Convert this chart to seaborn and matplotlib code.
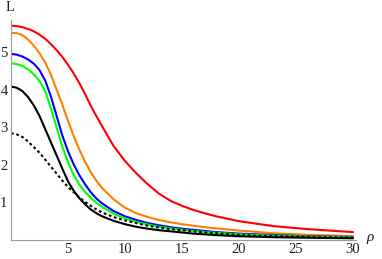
import matplotlib
matplotlib.use("Agg")
import matplotlib.pyplot as plt
from matplotlib.ticker import MultipleLocator
import seaborn as sns
import pandas as pd

rho = [0, 0.5, 1, 1.5, 2, 2.5, 3, 3.5, 4, 4.5, 5, 5.5, 6, 6.5, 7, 7.5, 8, 9, 10,
       11, 12, 13, 14, 15, 16, 17, 18, 20, 23, 26, 30]

L_red = [5.70, 5.69, 5.66, 5.61, 5.55, 5.46, 5.35, 5.21, 5.05, 4.87, 4.66, 4.43,
         4.17, 3.88, 3.57, 3.29, 3.02, 2.50, 2.10, 1.77, 1.48, 1.23, 1.04, 0.91,
         0.80, 0.71, 0.63, 0.50, 0.37, 0.29, 0.21]
L_orange = [5.51, 5.50, 5.45, 5.33, 5.17, 4.97, 4.72, 4.40, 4.00, 3.60, 3.17, 2.76,
            2.40, 2.08, 1.80, 1.57, 1.38, 1.08, 0.86, 0.71, 0.61, 0.53, 0.47, 0.42,
            0.38, 0.34, 0.31, 0.25, 0.18, 0.14, 0.10]
L_blue = [4.95, 4.93, 4.88, 4.80, 4.69, 4.52, 4.24, 3.82, 3.30, 2.78, 2.36, 2.01,
          1.72, 1.48, 1.27, 1.10, 0.97, 0.77, 0.63, 0.53, 0.45, 0.39, 0.34, 0.30,
          0.27, 0.24, 0.21, 0.17, 0.13, 0.10, 0.08]
L_green = [4.70, 4.68, 4.63, 4.54, 4.41, 4.23, 3.96, 3.50, 3.00, 2.48, 2.07, 1.73,
           1.47, 1.28, 1.12, 0.99, 0.88, 0.70, 0.57, 0.48, 0.41, 0.35, 0.31, 0.27,
           0.24, 0.21, 0.19, 0.15, 0.11, 0.09, 0.07]
L_black = [4.08, 4.05, 3.96, 3.80, 3.58, 3.30, 2.95, 2.60, 2.25, 1.90, 1.56, 1.31,
           1.11, 0.95, 0.81, 0.71, 0.63, 0.51, 0.42, 0.35, 0.30, 0.26, 0.23, 0.20,
           0.17, 0.15, 0.13, 0.10, 0.075, 0.06, 0.045]
L_dotted = [2.84, 2.81, 2.74, 2.62, 2.47, 2.32, 2.14, 1.95, 1.77, 1.58, 1.41, 1.27,
            1.13, 1.01, 0.91, 0.81, 0.73, 0.61, 0.52, 0.45, 0.38, 0.33, 0.29, 0.26,
            0.23, 0.20, 0.18, 0.13, 0.10, 0.08, 0.06]

series = [
    (L_red, "#ff0000", "-"),
    (L_orange, "#ff8000", "-"),
    (L_blue, "#0000ff", "-"),
    (L_green, "#00ff00", "-"),
    (L_black, "#000000", "-"),
    (L_dotted, "#000000", (0, (1.3, 1.3))),
]

sns.set_style("white")
plt.rcParams["font.family"] = ["Liberation Serif", "DejaVu Serif"]

W, H = 382, 259
fig = plt.figure(figsize=(W / 100, H / 100), dpi=100)
x0, x30 = 11.0, 353.0
y0px = 240.0
ppu_y = 37.6
xmax = 30.3
ymax = 5.85
left = x0 / W
right_px = x0 + (x30 - x0) / 30 * xmax
bottom = (H - y0px) / H
top_px = y0px - ppu_y * ymax
ax = fig.add_axes([left, bottom, (right_px - x0) / W, (y0px - top_px) / H])

for vals, col, ls in series:
    df = pd.DataFrame({"rho": rho, "L": vals})
    sns.lineplot(data=df, x="rho", y="L", color=col, linestyle=ls,
                 linewidth=1.5, ax=ax, estimator=None, sort=False)

ax.set_xlim(0, xmax)
ax.set_ylim(0, ymax)
ax.set_xlabel("")
ax.set_ylabel("")
for s in ["top", "right"]:
    ax.spines[s].set_visible(False)
for s in ["left", "bottom"]:
    ax.spines[s].set_color("#9a9a9a")
    ax.spines[s].set_linewidth(0.8)
ax.set_facecolor("none")

ax.xaxis.set_minor_locator(MultipleLocator(1))
ax.yaxis.set_minor_locator(MultipleLocator(0.2))
ax.set_xticks([5, 10, 15, 20, 25, 30])
ax.set_xticklabels(["5", "10", "15", "20", "25", "30"])
ax.set_yticks([1, 2, 3, 4, 5])
ax.set_yticklabels(["1", "2", "3", "4", "5"])
ax.tick_params(which="major", direction="in", length=4, width=0.7,
               color="#9a9a9a", labelsize=10.5, labelcolor="#222222", pad=2.5)
ax.tick_params(which="minor", direction="in", length=2.2, width=0.6,
               color="#9a9a9a")

fig.text(10.5 / W, 1 - 7.5 / H, "L", fontsize=10.5, ha="center", va="center",
         color="#222222")
fig.text(370 / W, 1 - 238 / H, "ρ", fontsize=11, ha="center", va="center",
         style="italic", color="#222222")

fig.savefig("out.png", dpi=100)
